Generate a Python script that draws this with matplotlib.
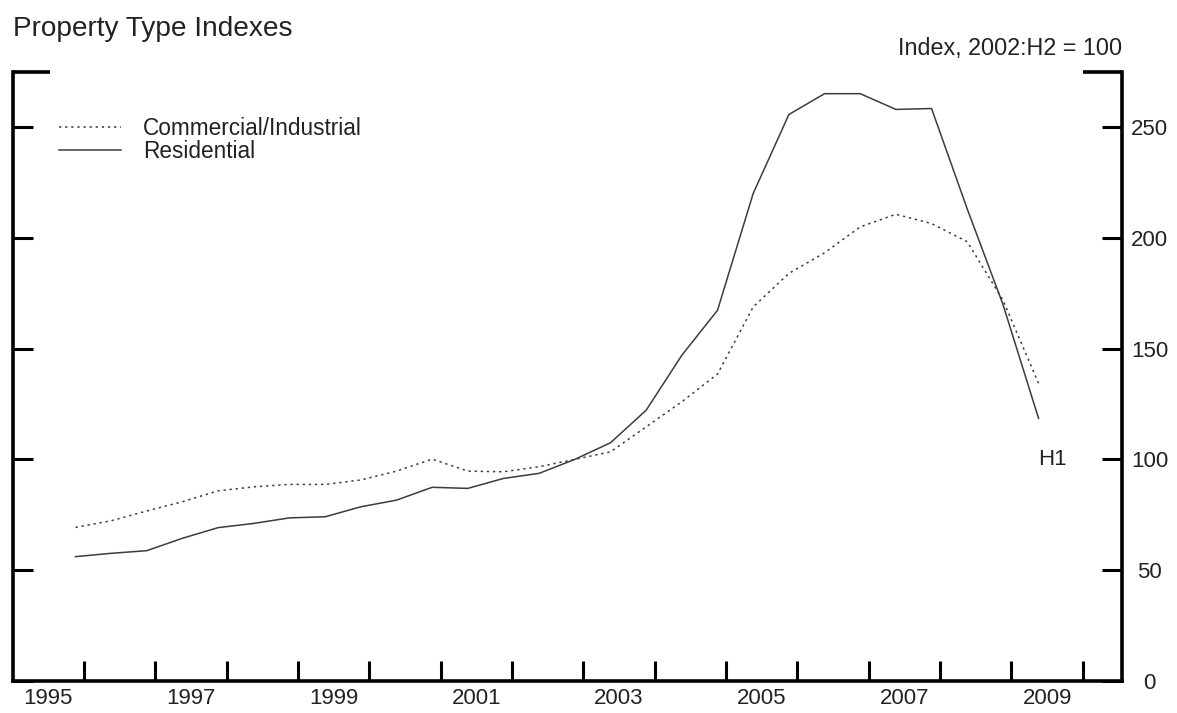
import numpy as np
import matplotlib
matplotlib.use("Agg")
import matplotlib.pyplot as plt

plt.rcParams['font.family'] = ['Liberation Sans', 'DejaVu Sans']

# half-year periods, 1995:H2 .. 2009:H1
periodes = ["%d:H%d" % (an, h) for an in range(1995, 2010) for h in (1, 2)][1:-1]

residential = [56.1, 57.6, 58.8, 64.4, 69.2, 71.1, 73.6, 74.1, 78.6, 81.6,
               87.4, 86.9, 91.4, 93.7, 100.0, 107.5, 122.2, 147.0, 167.3, 220.0,
               255.6, 265.0, 265.0, 257.9, 258.3, 213.0, 170.0, 118.5]

commercial = [69.3, 72.3, 76.7, 80.9, 85.8, 87.6, 88.7, 88.7, 90.7, 94.7,
              100.1, 94.7, 94.4, 96.7, 100.0, 103.4, 114.7, 126.0, 138.5, 168.8,
              183.9, 193.2, 204.9, 210.6, 206.4, 198.2, 171.9, 134.3]

ani_etichete = [str(a) for a in range(1995, 2010, 2)]
valori_y = [0, 50, 100, 150, 200, 250]

# position of each half-year on a time axis
x = np.array([int(p[:4]) + (0.38 if p.endswith("H1") else 0.88) for p in periodes])

fig = plt.figure(figsize=(11.77, 7.13), dpi=100)
ax = fig.add_axes([0.0108, 0.0449, 0.9425, 0.8548])

culoare = "#3c3c3c"
marime = 16.0
ax.plot(x, commercial, color=culoare, lw=1.1, dashes=(1.5, 2.5),
        label="Commercial/Industrial")
ax.plot(x, residential, color=culoare, lw=1.1, label="Residential")

ax.set_xlim(1995, 2010.55)
ax.set_ylim(0, 275)

for s in ["left", "right", "bottom"]:
    ax.spines[s].set_linewidth(2.6)
ax.spines["top"].set_visible(False)

# x: ticks at year boundaries, labels in the middle of odd years
ax.set_xticks(np.arange(1996, 2011))
ax.set_xticklabels([])
ax.set_xticks([int(a) + 0.5 for a in ani_etichete], minor=True)
ax.set_xticklabels(ani_etichete, minor=True)
ax.tick_params(axis="x", which="major", direction="in", length=14.5, width=2.2)
ax.tick_params(axis="x", which="minor", length=0, pad=5, labelsize=marime,
               labelcolor="#222222")

ax.set_yticks(valori_y)
ax.set_yticklabels([str(v) for v in valori_y])
ax.tick_params(axis="y", direction="in", length=14.5, width=2.2,
               left=True, right=True, labelleft=False, labelright=True,
               pad=20, labelsize=marime, labelcolor="#222222")
for t in ax.get_yticklabels():
    t.set_horizontalalignment("center")

# long marks at top of both vertical axes
ax.plot([0, 0.034], [1, 1], transform=ax.transAxes, color="black", lw=2.6,
        clip_on=False, solid_capstyle="butt")
ax.plot([0.965, 1], [1, 1], transform=ax.transAxes, color="black", lw=2.6,
        clip_on=False, solid_capstyle="butt")

ax.text(x[-1] + 0.2, 100, "H1", ha="center", va="center", fontsize=marime,
        color="#222222")

leg = ax.legend(loc="upper left", bbox_to_anchor=(0.034, 0.94), frameon=False,
                fontsize=16.3, handlelength=2.7, handletextpad=1.0,
                labelspacing=0.0, borderaxespad=0)
for t in leg.get_texts():
    t.set_color("#222222")

fig.text(0.0108, 1 - 36 / 713, "Property Type Indexes", fontsize=20.2,
         va="baseline", color="#222222")
fig.text(0.953, 1 - 55 / 713, "Index, 2002:H2 = 100", fontsize=16.8,
         ha="right", va="baseline", color="#222222")

fig.savefig("out.png", dpi=100)
